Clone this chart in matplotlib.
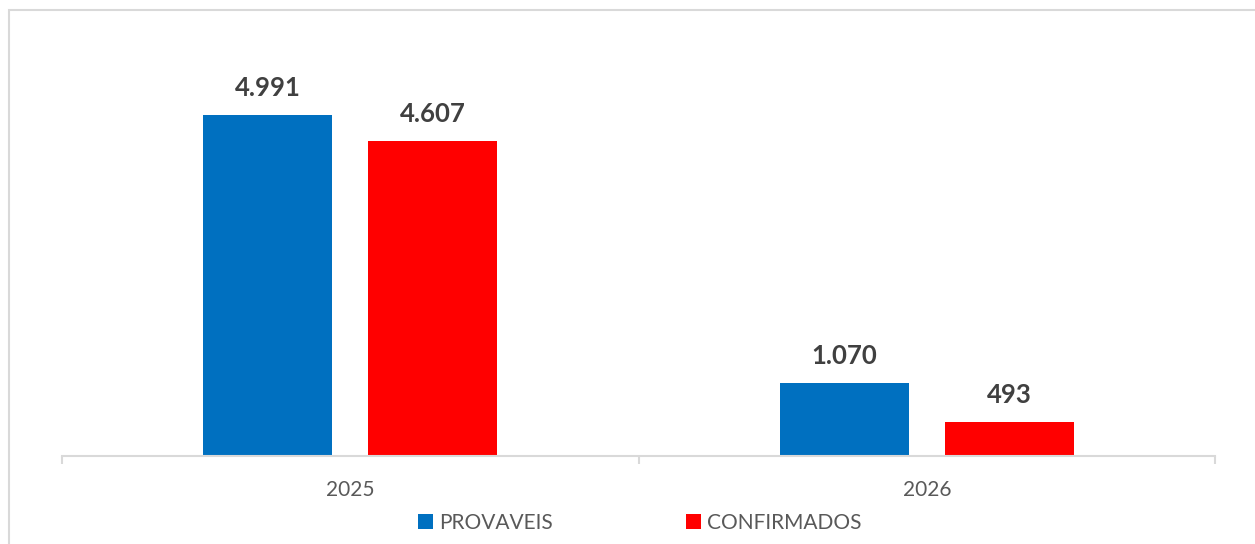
import numpy as np
import matplotlib
matplotlib.use("Agg")
from matplotlib import pyplot as plt
from matplotlib.patches import Rectangle

# dados
anos = ["2025", "2026"]
provaveis = [4991, 1070]
confirmados = [4607, 493]
series = ["PROVAVEIS", "CONFIRMADOS"]
cores = ["#0070C0", "#FF0000"]

plt.rcParams['font.family'] = ['Lato', 'DejaVu Sans']

fig = plt.figure(figsize=(12.55, 5.44), dpi=100)
# moldura cinza do grafico
fig.patches.append(Rectangle((9 / 1255, -0.1), 1.1, 1 - 10 / 544 + 0.1,
                             transform=fig.transFigure, fill=False,
                             edgecolor="#D9D9D9", linewidth=1.5))

ax = fig.add_axes([62 / 1255, 1 - 456 / 544, (1215 - 62) / 1255, (456 - 20) / 544])

x = np.arange(len(anos))
w = 0.224
off = 0.143
b1 = ax.bar(x - off, provaveis, w, color=cores[0], label=series[0])
b2 = ax.bar(x + off, confirmados, w, color=cores[1], label=series[1])

for bars, vals in [(b1, provaveis), (b2, confirmados)]:
    for r, v in zip(bars, vals):
        txt = f"{v:,}".replace(",", ".")
        ax.annotate(txt, (r.get_x() + r.get_width() / 2, v), xytext=(0, 11),
                    textcoords="offset points", ha="center", va="bottom",
                    fontsize=18.5, fontweight="bold", color="#404040")

ax.set_xlim(-0.5, 1.5)
ax.set_ylim(0, 436 / 0.06832)
ax.set_xticks([-0.5, 0.5, 1.5], minor=False)
ax.set_xticklabels([])
ax.set_xticks(x, minor=True)
ax.set_xticklabels(anos, minor=True)
ax.tick_params(axis="x", which="major", length=6, color="#D9D9D9", width=1.5)
ax.tick_params(axis="x", which="minor", length=0, pad=17, labelsize=15, labelcolor="#595959")
ax.set_yticks([])
for s in ["top", "right", "left"]:
    ax.spines[s].set_visible(False)
ax.spines["bottom"].set_color("#D9D9D9")
ax.spines["bottom"].set_linewidth(1.5)

fig.legend(loc="center", bbox_to_anchor=(640 / 1255, 1 - 523 / 544), ncol=2,
           frameon=False, fontsize=15, labelcolor="#595959", handlelength=0.7,
           handleheight=0.7, handletextpad=0.3, columnspacing=6.4)

fig.savefig("out.png", dpi=100, facecolor="white")
